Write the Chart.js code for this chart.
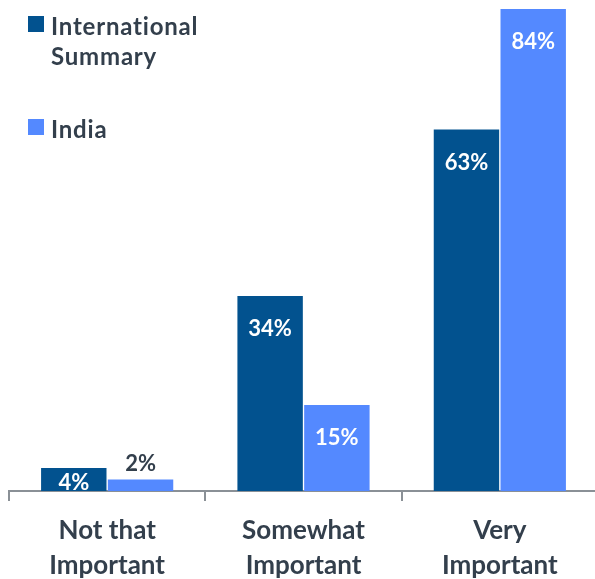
<!DOCTYPE html>
<html>
<head>
<meta charset="utf-8">
<script src="https://cdn.jsdelivr.net/npm/chart.js@4/dist/chart.umd.min.js"></script>
<style>
  html, body { margin: 0; padding: 0; background: #fff; overflow: hidden; }
  #wrap { width: 600px; height: 595px; }
</style>
</head>
<body>
<div id="wrap"><canvas id="chart" width="600" height="595"></canvas></div>
<script>
// ---- data ----
const categories = [["Not that", "Important"], ["Somewhat", "Important"], ["Very", "Important"]];
const seriesNames = [["International", "Summary"], ["India"]];
const internationalValues = [4, 34, 63];
const indiaValues = [2, 15, 84];

const DARK = "#02528F";
const LIGHT = "#5489FF";
const TEXT = "#333F4C";
const AXIS = "#8A9096";
const FONT = "Lato, 'Open Sans', sans-serif";

/* value labels: white inside the bar near its top, dark above it when the bar is too thin */
const valueLabels = {
  id: "valueLabels",
  afterDatasetsDraw(chart) {
    const ctx = chart.ctx;
    ctx.save();
    ctx.font = `bold 22px ${FONT}`;
    ctx.textAlign = "center";
    ctx.textBaseline = "middle";
    chart.data.datasets.forEach((ds, di) => {
      chart.getDatasetMeta(di).data.forEach((bar, i) => {
        const v = ds.data[i];
        const h = bar.base - bar.y;
        if (h < 16) {
          ctx.fillStyle = TEXT;
          ctx.fillText(v + "%", bar.x, bar.y - 16);
        } else {
          ctx.fillStyle = "#fff";
          ctx.fillText(v + "%", bar.x, Math.min(bar.y + 33, bar.base - 8));
        }
      });
    });
    ctx.restore();
  }
};

/* legend stacked at the top-left, wrapped label for the first series */
const stackedLegend = {
  id: "stackedLegend",
  afterDraw(chart) {
    const ctx = chart.ctx;
    const rows = [35, 138];
    ctx.save();
    ctx.font = `bold 24px ${FONT}`;
    ctx.letterSpacing = "0.8px";
    ctx.textAlign = "left";
    ctx.textBaseline = "alphabetic";
    chart.data.datasets.forEach((ds, di) => {
      const base = rows[di];
      ctx.fillStyle = ds.backgroundColor;
      ctx.fillRect(28, base - 19, 16, 16);
      ctx.fillStyle = TEXT;
      seriesNames[di].forEach((line, li) => ctx.fillText(line, 51, base + li * 30));
    });
    ctx.restore();
  }
};

new Chart(document.getElementById("chart"), {
  type: "bar",
  data: {
    labels: categories,
    datasets: [
      { label: "International Summary", data: internationalValues, backgroundColor: DARK },
      { label: "India", data: indiaValues, backgroundColor: LIGHT },
    ],
  },
  options: {
    responsive: false,
    animation: false,
    layout: { padding: { top: 9, left: 9, right: 2, bottom: 0 } },
    datasets: { bar: { categoryPercentage: 0.68, barPercentage: 0.98, borderWidth: 0 } },
    plugins: { legend: { display: false }, tooltip: { enabled: false } },
    scales: {
      x: {
        offset: true,
        border: { display: true, color: AXIS, width: 2 },
        grid: { offset: true, drawOnChartArea: false, drawTicks: true, tickLength: 10, color: AXIS, lineWidth: 2 },
        ticks: {
          color: TEXT,
          padding: 12,
          maxRotation: 0,
          autoSkip: false,
          font: { family: FONT, size: 26, weight: "bold", lineHeight: "35px" },
        },
      },
      y: { display: false, min: 0, max: 84 },
    },
  },
  plugins: [valueLabels, stackedLegend],
});
</script>
</body>
</html>
